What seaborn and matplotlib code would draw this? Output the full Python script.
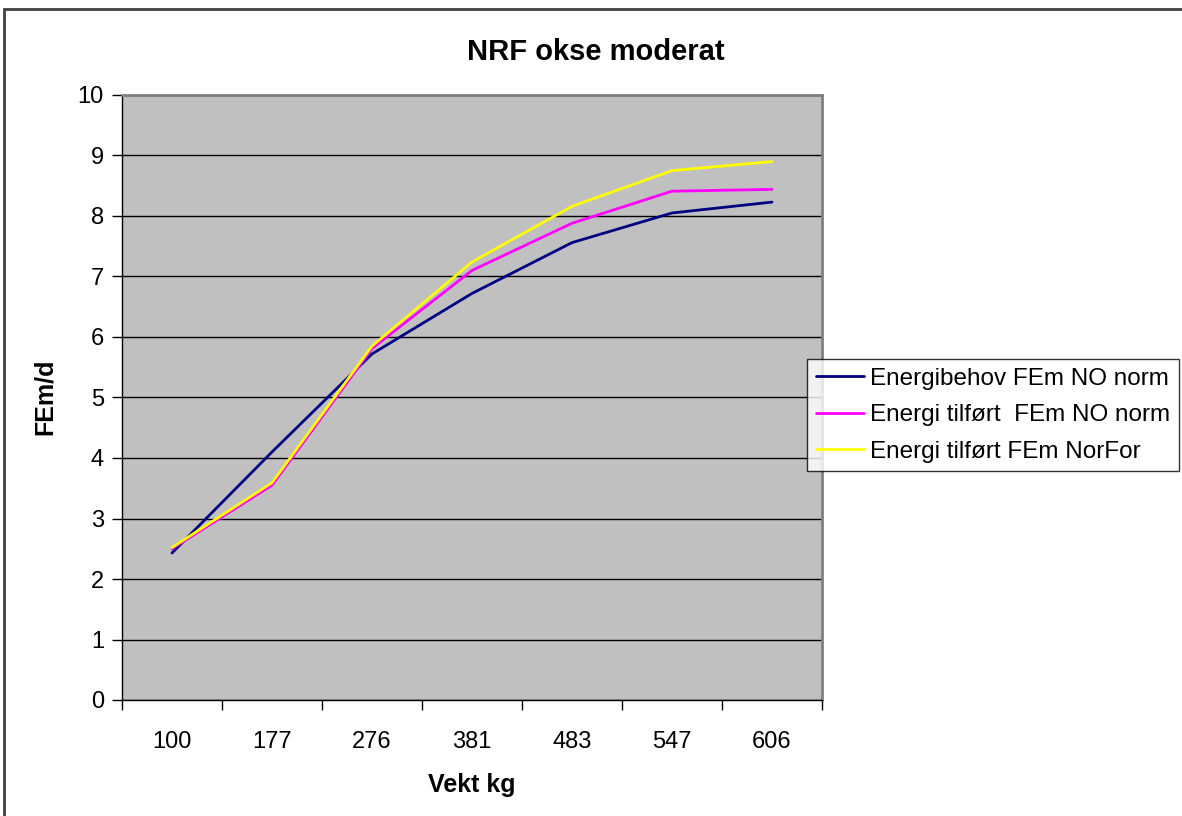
import matplotlib
matplotlib.use("Agg")
import matplotlib.pyplot as plt
from matplotlib.patches import Rectangle
import numpy as np
import pandas as pd
import seaborn as sns

# Body weight classes (kg) on the category axis
weights = ["100", "177", "276", "381", "483", "547", "606"]

# Daily energy (FEm/d) per weight class
energibehov_no = [2.43, 4.10, 5.72, 6.72, 7.56, 8.05, 8.23]
tilfort_no = [2.50, 3.55, 5.81, 7.10, 7.88, 8.41, 8.44]
tilfort_norfor = [2.52, 3.59, 5.85, 7.24, 8.16, 8.75, 8.90]

series_names = [
    "Energibehov FEm NO norm",
    "Energi tilført  FEm NO norm",
    "Energi tilført FEm NorFor",
]
series_colors = ["#000080", "#FF00FF", "#FFFF00"]

frames = []
for name, vals in zip(series_names, [energibehov_no, tilfort_no, tilfort_norfor]):
    frames.append(pd.DataFrame({
        "pos": np.arange(len(weights)),
        "vekt": weights,
        "FEm": vals,
        "serie": name,
    }))
df = pd.concat(frames, ignore_index=True)

sns.set_style("white")
plt.rcParams["font.family"] = ["Liberation Sans", "DejaVu Sans"]
plt.rcParams.update({
    "text.color": "black",
    "axes.labelcolor": "black",
    "xtick.color": "black",
    "ytick.color": "black",
})

fig = plt.figure(figsize=(11.82, 8.16), dpi=100)
W, H = 1182, 816
ax = fig.add_axes([122 / W, 1 - 700 / H, 700 / W, 605 / H])
ax.set_facecolor("#C0C0C0")

sns.lineplot(
    data=df, x="pos", y="FEm", hue="serie", hue_order=series_names,
    palette=dict(zip(series_names, series_colors)), linewidth=2.0,
    ax=ax, legend=True, sort=False,
)

handles, labels = ax.get_legend_handles_labels()
if ax.legend_ is not None:
    ax.legend_.remove()

# Axis limits, grid and ticks
ax.set_xlim(-0.5, len(weights) - 0.5)
ax.set_ylim(0, 10)
ax.set_yticks(np.arange(0, 11, 1))
ax.yaxis.grid(True, color="black", linewidth=1.0)
ax.xaxis.grid(False)
ax.set_axisbelow(True)

ax.set_xticks(np.arange(len(weights)))
ax.set_xticklabels(weights)
ax.set_xticks(np.arange(-0.5, len(weights)), minor=True)
ax.tick_params(axis="x", which="major", length=0, pad=22, labelsize=17)
ax.tick_params(axis="x", which="minor", length=7, width=1, color="black",
               direction="out", bottom=True)
ax.tick_params(axis="y", which="major", length=7, width=1, color="black",
               direction="out", left=True, pad=6, labelsize=17)

for side in ["top", "right"]:
    ax.spines[side].set_color("#808080")
    ax.spines[side].set_linewidth(2)
for side in ["left", "bottom"]:
    ax.spines[side].set_color("black")
    ax.spines[side].set_linewidth(1)

ax.set_xlabel("")
ax.set_ylabel("")
fig.text(45 / W, 1 - 397 / H, "FEm/d", rotation=90, fontsize=18,
         fontweight="bold", ha="center", va="center")
fig.text(472 / W, 1 - 785 / H, "Vekt kg", fontsize=18,
         fontweight="bold", ha="center", va="center")
fig.text(596 / W, 1 - 52 / H, "NRF okse moderat", fontsize=21,
         fontweight="bold", ha="center", va="center")

leg = fig.legend(
    handles, labels, loc="upper left",
    bbox_to_anchor=(807 / W, 1 - 359 / H), bbox_transform=fig.transFigure,
    fontsize=17.5, frameon=True, fancybox=False, edgecolor="black",
    handlelength=2.0, handletextpad=0.25, borderpad=0.35, labelspacing=0.6,
    borderaxespad=0,
)
leg.get_frame().set_linewidth(1.0)
for line in leg.get_lines():
    line.set_linewidth(2.0)

# Chart area frame
fig.patches.append(Rectangle((4 / W, -0.1), 1.2, 1.1 - 9 / H,
                             transform=fig.transFigure, fill=False,
                             edgecolor="#404040", linewidth=2))

fig.savefig("out.png", dpi=100)
